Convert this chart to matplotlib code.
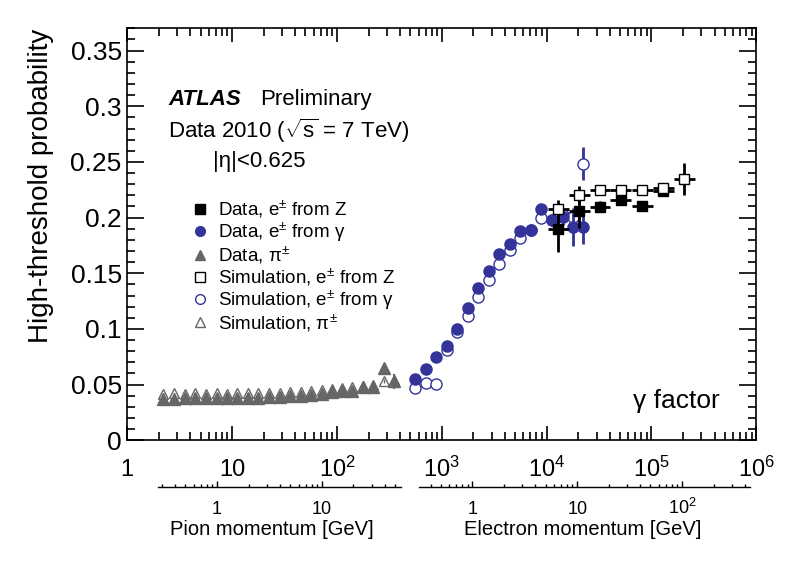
import numpy as np
import matplotlib
matplotlib.use('Agg')
import matplotlib.pyplot as plt
from matplotlib.lines import Line2D
from matplotlib.ticker import LogLocator, NullFormatter, MultipleLocator

plt.rcParams['font.family'] = ['Liberation Sans', 'DejaVu Sans']
plt.rcParams['mathtext.fontset'] = 'custom'
plt.rcParams['mathtext.rm'] = 'Liberation Sans'
plt.rcParams['mathtext.it'] = 'Liberation Sans:italic'
plt.rcParams['mathtext.bf'] = 'Liberation Sans:bold'

# masses [GeV] for the momentum axes
m_pion = 0.1396
m_electron = 0.000511

# pions
pi_gamma = [2.2, 2.79, 3.55, 4.42, 5.63, 7.13, 8.88, 11.2, 14.3, 17.8, 22.6, 28.6,
            35.6, 45.1, 56.2, 71.5, 89.1, 111, 140, 178, 222, 281, 350]
pi_data = [0.0375, 0.0374, 0.0377, 0.0378, 0.0379, 0.0378, 0.0380, 0.0379, 0.0382,
           0.0384, 0.0385, 0.0389, 0.0396, 0.0401, 0.0405, 0.0418, 0.0436, 0.0443,
           0.0447, 0.0480, 0.0476, 0.0650, 0.0530]
pi_data_err = [0.0005] * 21 + [0.002, 0.0067]
pi_sim = [0.0420, 0.0421, 0.0420, 0.0421, 0.0420, 0.0421, 0.0420, 0.0421, 0.0422,
          0.0423, 0.0425, 0.0428, 0.0433, 0.0438, 0.0442, 0.0452, 0.0462, 0.0468,
          0.0478, 0.0488, 0.0497, 0.0535, 0.0545]
pi_sim_err = [0.0005] * 21 + [0.002, 0.003]

# electrons from photon conversions
e_gamma = [555, 707, 880, 1114, 1406, 1767, 2215, 2803, 3515, 4478, 5613, 7100,
           8896, 11250, 14230, 17980, 22390]
e_data = [0.055, 0.064, 0.0744, 0.0849, 0.0996, 0.1184, 0.1366, 0.1519, 0.1671,
          0.176, 0.188, 0.1886, 0.208, 0.1976, 0.2006, 0.1916, 0.192]
e_data_err = [0.001] * 12 + [0.003, 0.005, 0.007, 0.017, 0.016]
e_sim = [0.0466, 0.0511, 0.0505, 0.081, 0.0974, 0.1115, 0.1283, 0.1444, 0.158,
         0.1707, 0.182, 0.189, 0.200, 0.198, 0.202, 0.2006, 0.2485]
e_sim_err = [0.001] * 12 + [0.003, 0.004, 0.005, 0.006, 0.015]

# electrons from Z decays
z_gamma = [12920, 20370, 32300, 50900, 81300, 129800]
z_data = [0.190, 0.206, 0.2096, 0.216, 0.210, 0.224]
z_data_err = [0.021, 0.015, 0.005, 0.004, 0.004, 0.004]
z_sim_gamma = [12920, 20370, 32300, 50900, 81300, 129800, 204600]
z_sim = [0.208, 0.220, 0.2245, 0.2245, 0.2245, 0.2265, 0.2347]
z_sim_err = [0.008, 0.008, 0.003, 0.003, 0.003, 0.003, 0.014]
z_halfbin_dex = 0.1

gamma_ticks = [1, 10, 1e2, 1e3, 1e4, 1e5, 1e6]
gamma_labels = ['1', '10', '10$^{2}$', '10$^{3}$', '10$^{4}$', '10$^{5}$', '10$^{6}$']
y_ticks = [0, 0.05, 0.1, 0.15, 0.2, 0.25, 0.3, 0.35]

navy = '#333399'
grey = '#666666'

W, H = 796, 572
fig = plt.figure(figsize=(W / 100, H / 100), dpi=100)
L, R, T, B = 127.3, 756.3, 28.3, 440.3
ax = fig.add_axes([L / W, 1 - B / H, (R - L) / W, (B - T) / H])


def xerr_dex(g, h):
    g = np.array(g, dtype=float)
    return [g - g / 10 ** h, g * 10 ** h - g]


ax.errorbar(pi_gamma, pi_data, yerr=pi_data_err, fmt='^', ms=8, color=grey,
            ecolor=grey, elinewidth=1.5, capsize=0, zorder=3)
ax.errorbar(pi_gamma, pi_sim, yerr=pi_sim_err, fmt='^', ms=7.5, mfc='none', mec=grey,
            ecolor=grey, elinewidth=1, capsize=0, mew=1, zorder=4)
ax.errorbar(e_gamma, e_sim, yerr=e_sim_err, fmt='o', ms=8, mfc='white', mec=navy,
            ecolor=navy, elinewidth=2, capsize=0, mew=1, zorder=3)
ax.errorbar(e_gamma, e_data, yerr=e_data_err, fmt='o', ms=8, color=navy,
            ecolor=navy, elinewidth=2, capsize=0, zorder=4)
ax.errorbar(z_gamma, z_data, yerr=z_data_err, xerr=xerr_dex(z_gamma, z_halfbin_dex),
            fmt='s', ms=7.5, color='black', elinewidth=2, capsize=0, zorder=5)
ax.errorbar(z_sim_gamma, z_sim, yerr=z_sim_err, xerr=xerr_dex(z_sim_gamma, z_halfbin_dex),
            fmt='s', ms=7.5, mfc='white', mec='black', ecolor='black', mew=1,
            elinewidth=2, capsize=0, zorder=6)

ax.set_xscale('log')
ax.set_xlim(1, 1e6)
ax.set_ylim(0, 0.37)
ax.set_xticks(gamma_ticks, gamma_labels)
ax.xaxis.set_minor_locator(LogLocator(base=10, subs=np.arange(2, 10), numticks=50))
ax.xaxis.set_minor_formatter(NullFormatter())
ax.set_yticks(y_ticks, ['%g' % v for v in y_ticks])
ax.yaxis.set_minor_locator(MultipleLocator(0.01))
for s in ax.spines.values():
    s.set_linewidth(1.2)
ax.tick_params(which='both', direction='in', top=True, right=True, width=1.2)
ax.tick_params(axis='y', which='major', length=12, labelsize=19, pad=4)
ax.tick_params(axis='y', which='minor', length=6)
ax.tick_params(axis='x', which='major', length=10, labelsize=17, pad=26)
ax.tick_params(axis='x', which='minor', length=5.5)
plt.setp(ax.get_xticklabels(), va='baseline')

ax.set_ylabel('High-threshold probability', fontsize=20, loc='top')
ax.yaxis.set_label_coords(-0.1165, 1.0)

# momentum axes
def momentum_axis(x0, x1, mass, ticks, labels, title, title_x):
    a = fig.add_axes([x0 / W, 1 - 486.7 / H, (x1 - x0) / W, 0.0001])
    a.patch.set_alpha(0)
    g0 = 10 ** ((x0 - L) / (R - L) * 6)
    g1 = 10 ** ((x1 - L) / (R - L) * 6)
    a.set_xscale('log')
    a.set_xlim(g0 * mass, g1 * mass)
    a.set_xticks(ticks, labels)
    a.xaxis.set_minor_locator(LogLocator(base=10, subs=np.arange(2, 10), numticks=50))
    a.xaxis.set_minor_formatter(NullFormatter())
    a.set_yticks([])
    for k in ['top', 'left', 'right']:
        a.spines[k].set_visible(False)
    a.spines['bottom'].set_linewidth(1)
    a.tick_params(axis='x', which='both', direction='in', width=1)
    a.tick_params(axis='x', which='major', length=4, labelsize=13, pad=19.5)
    a.tick_params(axis='x', which='minor', length=2.5)
    plt.setp(a.get_xticklabels(), va='baseline')
    fig.text(title_x / W, 1 - 535 / H, title, fontsize=14.5, ha='center', va='baseline')
    return a


momentum_axis(157.5, 400.5, m_pion, [1, 10], ['1', '10'], 'Pion momentum [GeV]', 272)
momentum_axis(418.5, 750.5, m_electron, [1, 10, 100], ['1', '10', '10$^{2}$'],
              'Electron momentum [GeV]', 583)

# labels
fig.text(168 / W, 1 - 105 / H, 'ATLAS', fontsize=16, fontweight='bold',
         fontstyle='italic', va='baseline')
fig.text(260 / W, 1 - 105 / H, 'Preliminary', fontsize=16, va='baseline')
fig.text(168 / W, 1 - 138.3 / H, r'Data 2010 ($\sqrt{\mathrm{s}}$ = 7 TeV)', fontsize=16,
         va='baseline')
fig.text(213 / W, 1 - 166.7 / H, '|η|<0.625', fontsize=16, va='baseline')
fig.text(720 / W, 1 - 408 / H, 'γ factor', fontsize=19, ha='right', va='baseline')

handles = [
    Line2D([], [], ls='none', marker='s', ms=6.5, color='black'),
    Line2D([], [], ls='none', marker='o', ms=7, color=navy),
    Line2D([], [], ls='none', marker='^', ms=7, color=grey),
    Line2D([], [], ls='none', marker='s', ms=6.5, mfc='white', mec='black', mew=1),
    Line2D([], [], ls='none', marker='o', ms=7, mfc='white', mec=navy, mew=1),
    Line2D([], [], ls='none', marker='^', ms=7, mfc='white', mec=grey, mew=1),
]
labels = ['Data, e$^{\\pm}$ from Z', 'Data, e$^{\\pm}$ from γ', 'Data, π$^{\\pm}$',
          'Simulation, e$^{\\pm}$ from Z', 'Simulation, e$^{\\pm}$ from γ',
          'Simulation, π$^{\\pm}$']
ax.legend(handles, labels, loc='upper left', bbox_to_anchor=(192 / W, 1 - 199 / H),
          bbox_transform=fig.transFigure, frameon=False, fontsize=13.5, borderpad=0,
          borderaxespad=0, handlelength=0.8, handletextpad=0.6, labelspacing=0.03)

fig.savefig('out.png', dpi=100)
